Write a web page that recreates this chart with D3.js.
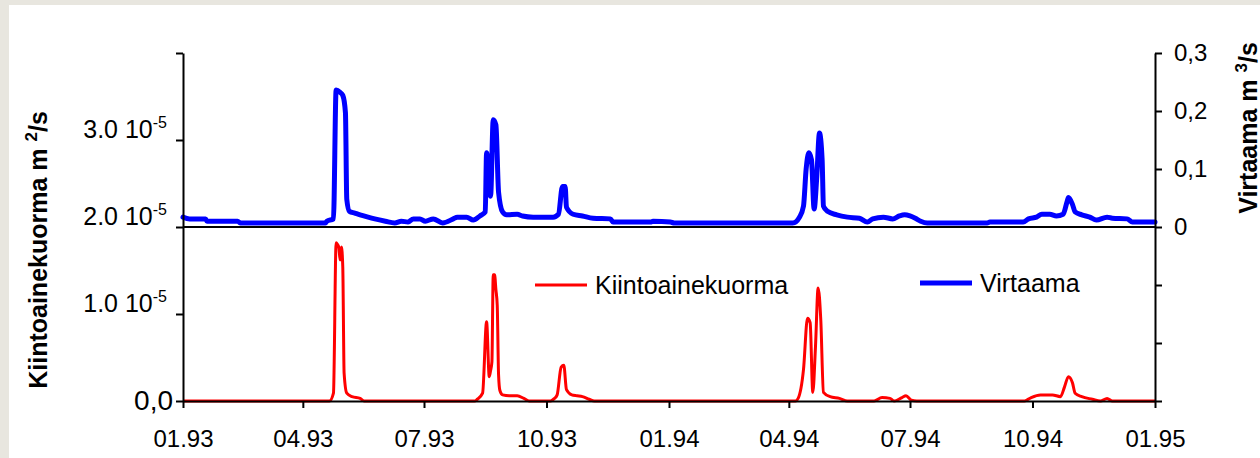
<!DOCTYPE html>
<html>
<head>
<meta charset="utf-8">
<script src="https://cdn.jsdelivr.net/npm/d3@7"></script>
<style>
  body { margin: 0; background: #e8e6df; }
  svg { display: block; font-family: "Liberation Sans", Arial, sans-serif; }
</style>
</head>
<body>
<svg id="chart"></svg>
<script>
// Virtaama (m3/s), right axis
var virtaamaDates = ["1993-01-01","1993-01-06","1993-01-18","1993-01-19","1993-02-11","1993-02-13","1993-04-18","1993-04-19","1993-04-24","1993-04-26","1993-04-29","1993-05-01","1993-05-03","1993-05-04","1993-05-06","1993-05-10","1993-05-14","1993-05-20","1993-05-25","1993-06-02","1993-06-09","1993-06-14","1993-06-19","1993-06-23","1993-06-28","1993-07-02","1993-07-08","1993-07-15","1993-07-23","1993-07-26","1993-08-02","1993-08-07","1993-08-12","1993-08-16","1993-08-17","1993-08-20","1993-08-22","1993-08-24","1993-08-26","1993-08-29","1993-09-01","1993-09-09","1993-09-13","1993-09-21","1993-10-06","1993-10-10","1993-10-13","1993-10-15","1993-10-16","1993-10-21","1993-10-28","1993-11-05","1993-11-18","1993-11-20","1993-12-18","1993-12-20","1994-01-02","1994-01-05","1994-04-04","1994-04-09","1994-04-12","1994-04-14","1994-04-16","1994-04-18","1994-04-20","1994-04-22","1994-04-24","1994-04-26","1994-04-27","1994-04-30","1994-05-07","1994-05-15","1994-05-24","1994-05-30","1994-06-03","1994-06-11","1994-06-18","1994-06-23","1994-06-27","1994-07-01","1994-07-05","1994-07-09","1994-07-14","1994-08-28","1994-08-30","1994-09-24","1994-09-28","1994-10-04","1994-10-08","1994-10-14","1994-10-19","1994-10-24","1994-10-27","1994-10-28","1994-10-31","1994-11-02","1994-11-07","1994-11-13","1994-11-18","1994-11-26","1994-11-30","1994-12-11","1994-12-15","1995-01-01"]
var virtaamaValues = [0.017,0.014,0.014,0.010,0.010,0.007,0.007,0.010,0.014,0.236,0.232,0.227,0.197,0.048,0.027,0.024,0.021,0.017,0.014,0.010,0.007,0.010,0.0085,0.014,0.014,0.010,0.014,0.007,0.014,0.017,0.017,0.012,0.019,0.026,0.128,0.053,0.185,0.176,0.060,0.026,0.021,0.022,0.019,0.017,0.017,0.022,0.070,0.070,0.034,0.022,0.019,0.015,0.014,0.0085,0.0085,0.010,0.0085,0.007,0.007,0.017,0.036,0.10,0.128,0.116,0.031,0.087,0.162,0.116,0.036,0.027,0.021,0.017,0.015,0.0085,0.014,0.017,0.014,0.019,0.021,0.019,0.015,0.010,0.007,0.007,0.0085,0.0085,0.014,0.017,0.022,0.022,0.019,0.022,0.044,0.051,0.039,0.026,0.021,0.017,0.012,0.017,0.015,0.014,0.0085,0.0085]

// Kiintoainekuorma (x 10^-5 m2/s), left axis
var kuormaDates = ["1993-01-01","1993-04-21","1993-04-24","1993-04-26","1993-04-27","1993-04-28","1993-04-29","1993-04-30","1993-05-01","1993-05-02","1993-05-04","1993-05-08","1993-05-14","1993-05-17","1993-08-08","1993-08-10","1993-08-14","1993-08-17","1993-08-19","1993-08-20","1993-08-21","1993-08-22","1993-08-23","1993-08-24","1993-08-25","1993-08-26","1993-08-27","1993-08-29","1993-09-03","1993-09-09","1993-09-14","1993-09-18","1993-10-04","1993-10-07","1993-10-09","1993-10-12","1993-10-14","1993-10-16","1993-10-20","1993-10-24","1993-10-28","1993-11-02","1993-11-06","1994-04-06","1994-04-08","1994-04-12","1994-04-15","1994-04-17","1994-04-19","1994-04-21","1994-04-23","1994-04-25","1994-04-27","1994-05-02","1994-05-09","1994-05-15","1994-06-04","1994-06-10","1994-06-16","1994-06-19","1994-06-25","1994-06-28","1994-07-02","1994-07-06","1994-09-25","1994-09-30","1994-10-07","1994-10-16","1994-10-22","1994-10-25","1994-10-28","1994-10-31","1994-11-02","1994-11-07","1994-11-15","1994-11-21","1994-11-26","1994-11-30","1995-01-01"]
var kuormaValues = [0,0,0.09,1.82,1.80,1.77,1.62,1.77,1.54,0.32,0.09,0.05,0.03,0,0,0.02,0.09,0.91,0.28,0.35,0.45,1.45,1.45,1.28,1.10,0.30,0.12,0.07,0.06,0.06,0.03,0,0,0.03,0.07,0.39,0.41,0.13,0.07,0.06,0.05,0.02,0,0,0.03,0.36,0.95,0.90,0.10,0.62,1.30,0.93,0.10,0.05,0.03,0,0,0.04,0.03,0,0.04,0.06,0.01,0,0,0.04,0.07,0.07,0.05,0.16,0.28,0.21,0.09,0.05,0.02,0,0.03,0,0]

var leftTicks = [0, 1, 2, 3, 4]
var leftTickLabels = ["0,0", "1.0 10", "2.0 10", "3.0 10", ""]
var leftTickExp = ["", "-5", "-5", "-5", ""]
var rightTicks = [-0.3, -0.2, -0.1, 0, 0.1, 0.2, 0.3]
var rightTickLabels = ["", "", "", "0", "0,1", "0,2", "0,3"]

var legendLabels = ["Kiintoainekuorma", "Virtaama"]

var dimensions = {
  width: 1260,
  height: 458,
  left: 183,
  right: 1155,
  top: 53,
  bottom: 401
}

var redColor = "#ff0000"
var blueColor = "#0000ff"

var parse = d3.utcParse("%Y-%m-%d")

var virtaama = virtaamaDates.map((d, i) => ({date: parse(d), value: virtaamaValues[i]}))
var kuorma = kuormaDates.map((d, i) => ({date: parse(d), value: kuormaValues[i]}))

var xScale = d3.scaleUtc()
  .domain([parse("1993-01-01"), parse("1995-01-01")])
  .range([dimensions.left, dimensions.right])

var yLeft = d3.scaleLinear()
  .domain([0, 4])
  .range([dimensions.bottom, dimensions.top])

var yRight = d3.scaleLinear()
  .domain([-0.3, 0.3])
  .range([dimensions.bottom, dimensions.top])

var svg = d3.select("#chart")
  .attr("width", dimensions.width)
  .attr("height", dimensions.height)

// panel
svg.append("rect")
  .attr("x", 0).attr("y", 0)
  .attr("width", dimensions.width).attr("height", dimensions.height)
  .attr("fill", "#e8e6df")
svg.append("rect")
  .attr("x", 9).attr("y", 5)
  .attr("width", dimensions.width - 9).attr("height", dimensions.height - 5)
  .attr("fill", "#ffffff")

// lines (smoothed, no overshoot below zero)
var kuormaLine = d3.line()
  .x(d => xScale(d.date))
  .y(d => yLeft(d.value))
  .curve(d3.curveMonotoneX)

var virtaamaLine = d3.line()
  .x(d => xScale(d.date))
  .y(d => yRight(d.value))
  .curve(d3.curveMonotoneX)

svg.append("path")
  .datum(kuorma)
  .attr("fill", "none")
  .attr("stroke", redColor)
  .attr("stroke-width", 3)
  .attr("stroke-linejoin", "round")
  .attr("d", kuormaLine)

// middle zero line of the flow axis
svg.append("line")
  .attr("x1", dimensions.left).attr("x2", dimensions.right)
  .attr("y1", yRight(0)).attr("y2", yRight(0))
  .attr("stroke", "#000").attr("stroke-width", 2)

svg.append("path")
  .datum(virtaama)
  .attr("fill", "none")
  .attr("stroke", blueColor)
  .attr("stroke-width", 5)
  .attr("stroke-linejoin", "round")
  .attr("stroke-linecap", "round")
  .attr("d", virtaamaLine)

// axes
function styleAxis(g) {
  g.select(".domain").attr("stroke", "#000").attr("stroke-width", 2)
  g.selectAll(".tick line").attr("stroke", "#000").attr("stroke-width", 2)
  g.selectAll("text").attr("fill", "#000").style("font-size", "24px")
    .style("font-family", "'Liberation Sans', Arial, sans-serif")
}

var xAxis = d3.axisBottom(xScale)
  .ticks(d3.utcMonth.every(3))
  .tickFormat(d3.utcFormat("%m.%y"))
  .tickSize(7)
  .tickSizeOuter(0)
  .tickPadding(22)

svg.append("g")
  .attr("transform", "translate(0," + dimensions.bottom + ")")
  .call(xAxis)
  .call(styleAxis)

var leftAxis = d3.axisLeft(yLeft)
  .tickValues(leftTicks)
  .tickFormat("")
  .tickSize(7)
  .tickSizeOuter(0)

var leftG = svg.append("g")
  .attr("transform", "translate(" + dimensions.left + ",0)")
  .call(leftAxis)
  .call(styleAxis)

leftG.selectAll(".tick").each(function(d, i) {
  var t = d3.select(this).append("text")
    .attr("x", leftTickExp[i] ? -16 : -10)
    .attr("y", leftTickExp[i] ? -3 : 8)
    .attr("text-anchor", "end")
    .attr("fill", "#000")
    .style("font-size", leftTickExp[i] ? "25px" : "28px")
  t.append("tspan").text(leftTickLabels[i])
  if (leftTickExp[i]) {
    t.append("tspan").attr("dy", -10).style("font-size", "16px").text(leftTickExp[i])
  }
})

var rightAxis = d3.axisRight(yRight)
  .tickValues(rightTicks)
  .tickFormat((d, i) => rightTickLabels[i])
  .tickSize(7)
  .tickSizeOuter(0)
  .tickPadding(12)

svg.append("g")
  .attr("transform", "translate(" + dimensions.right + ",0)")
  .call(rightAxis)
  .call(styleAxis)

// axis titles
var leftTitle = svg.append("text")
  .attr("transform", "translate(47," + 250 + ") rotate(-90)")
  .attr("text-anchor", "middle")
  .style("font-size", "25px")
  .style("font-weight", "bold")
leftTitle.append("tspan").text("Kiintoainekuorma m ")
leftTitle.append("tspan").attr("dy", -10).style("font-size", "17px").text("2")
leftTitle.append("tspan").attr("dy", 10).text("/s")

var rightTitle = svg.append("text")
  .attr("transform", "translate(1257," + 128 + ") rotate(-90)")
  .attr("text-anchor", "middle")
  .style("font-size", "25px")
  .style("font-weight", "bold")
rightTitle.append("tspan").text("Virtaama m ")
rightTitle.append("tspan").attr("dy", -10).style("font-size", "17px").text("3")
rightTitle.append("tspan").attr("dy", 10).text("/s")

// legend
var legend = [
  {label: legendLabels[0], color: redColor, width: 3, x: 535, y: 285},
  {label: legendLabels[1], color: blueColor, width: 5, x: 920, y: 283}
]
legend.forEach(function(l) {
  svg.append("line")
    .attr("x1", l.x).attr("x2", l.x + 52)
    .attr("y1", l.y).attr("y2", l.y)
    .attr("stroke", l.color)
    .attr("stroke-width", l.width)
  svg.append("text")
    .attr("x", l.x + 60)
    .attr("y", l.y + 9)
    .style("font-size", "25px")
    .attr("fill", "#000")
    .text(l.label)
})
</script>
</body>
</html>
